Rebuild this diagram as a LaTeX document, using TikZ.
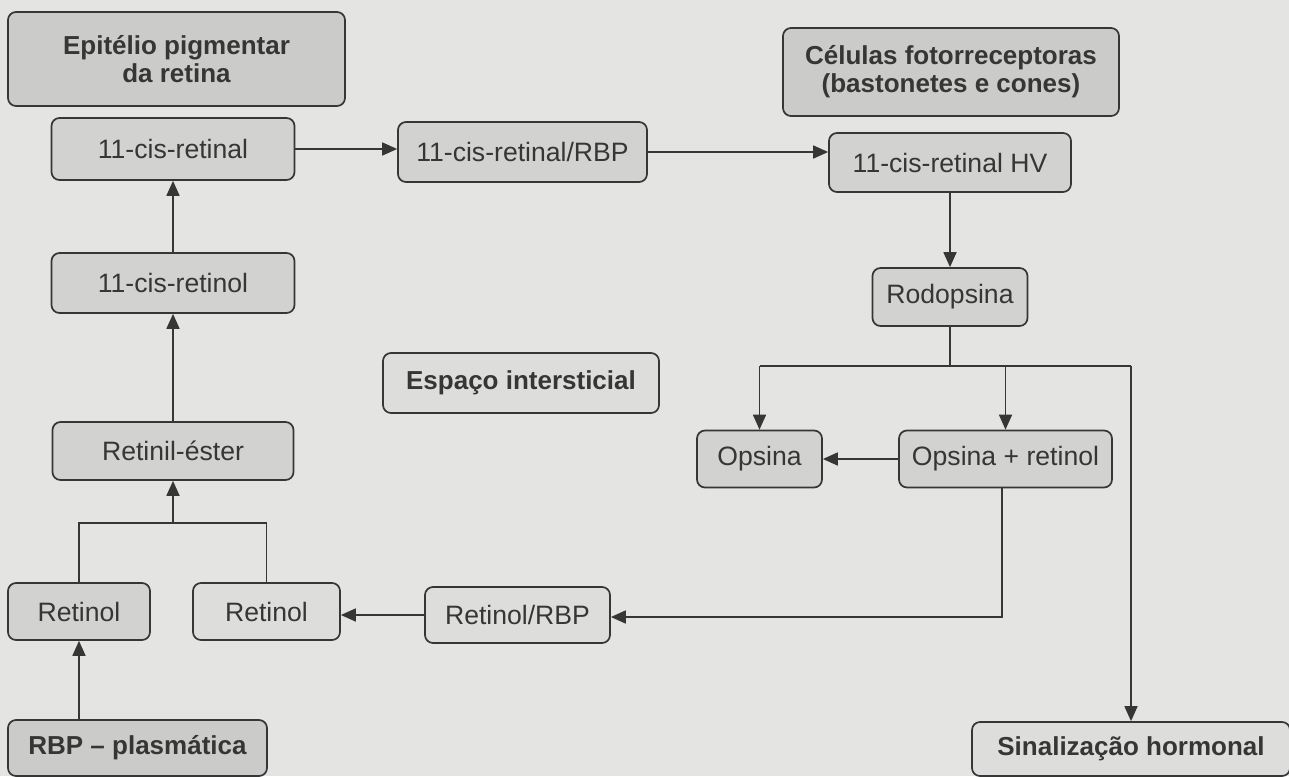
\documentclass[tikz,border=0pt]{standalone}
\usepackage{fontspec}
\setmainfont{Liberation Sans}
\usetikzlibrary{arrows.meta}
\definecolor{paper}{HTML}{E4E4E2}
\definecolor{boxgray}{HTML}{D2D2D0}
\definecolor{headgray}{HTML}{CBCBC9}
\definecolor{lightbox}{HTML}{DDDDDB}
\definecolor{ink}{HTML}{363636}
\begin{document}
\begin{tikzpicture}[x=0.5pt,y=-0.5pt,
    box/.style={draw=ink, fill=boxgray, rounded corners=4pt, line width=0.85pt,
        inner sep=0pt, align=center, text=ink, font=\fontsize{13.3}{14}\selectfont},
    headbox/.style={box, fill=headgray, font=\fontsize{13}{14}\selectfont\bfseries},
    litebox/.style={box, fill=lightbox},
    sz/.style 2 args={minimum width=#1*0.5pt, minimum height=#2*0.5pt},
    flow/.style={draw=ink, line width=0.85pt, -{Triangle[length=7.5pt,width=6.5pt]}},
    link/.style={draw=ink, line width=0.85pt}]
    \fill[paper] (0,0) rectangle (1289,776);
    \useasboundingbox (0,0) rectangle (1289,776);
    \node[headbox, sz={337}{94}] (epit) at (176.5,59) {Epitélio pigmentar\\da retina};
    \node[box, sz={243}{62}] (cisal) at (173,149) {11-cis-retinal};
    \node[box, sz={243}{60}] (cisol) at (173,283) {11-cis-retinol};
    \node[box, sz={241}{58}] (ester) at (173,451) {Retinil-éster};
    \node[box, sz={142}{57}] (ret1) at (79,611.5) {Retinol};
    \node[litebox, sz={147}{57}] (ret2) at (266.5,611.5) {Retinol};
    \node[headbox, sz={259}{56}] (rbpp) at (137.5,748) {RBP -- plasmática};
    \node[box, sz={249}{60}] (rbpcis) at (522.5,152) {11-cis-retinal/RBP};
    \node[headbox, fill=lightbox, sz={276}{60}] (espaco) at (521,383) {Espaço intersticial};
    \node[litebox, sz={185}{56}] (retrbp) at (517.5,615) {Retinol/RBP};
    \node[headbox, sz={336}{88}] (celulas) at (951,72) {Células fotorreceptoras\\(bastonetes e cones)};
    \node[box, sz={242}{59}] (hv) at (950,162.5) {11-cis-retinal HV};
    \node[box, sz={155}{58}] (rodo) at (950,297) {Rodopsina};
    \node[box, sz={125}{57}] (opsina) at (759.5,459) {Opsina};
    \node[box, sz={213}{57}] (opsret) at (1005.5,459) {Opsina + retinol};
    \node[headbox, fill=lightbox, sz={318}{54}] (sinal) at (1131,749) {Sinalização hormonal};
    \coordinate (split) at (950,366);
    \coordinate (join) at (173,523);
    \coordinate (back) at (1002,617);
    \draw[flow] (cisol) -- (cisal);
    \draw[flow] (ester) -- (cisol);
    \draw[flow] (cisal.east) -- (rbpcis.west |- cisal.east);
    \draw[flow] (rbpcis.east) -- (hv.west |- rbpcis.east);
    \draw[flow] (hv) -- (rodo);
    \draw[link] (rodo.south) -- (split);
    \draw[link] (opsina.north |- split) -- (sinal.north |- split);
    \draw[flow] (opsina.north |- split) -- (opsina.north);
    \draw[flow] (opsret.north |- split) -- (opsret.north);
    \draw[flow] (sinal.north |- split) -- (sinal.north);
    \draw[flow] (opsret.west) -- (opsina.east);
    \draw[flow] (opsret.south -| back) -- (back) -- (retrbp.east |- back);
    \draw[flow] (retrbp.west) -- (ret2.east |- retrbp.west);
    \draw[flow] (rbpp.north -| ret1) -- (ret1.south);
    \draw[link] (ret1.north) -- (ret1.north |- join) -- (ret2.north |- join) -- (ret2.north);
    \draw[flow] (join) -- (ester.south);
\end{tikzpicture}
\end{document}
